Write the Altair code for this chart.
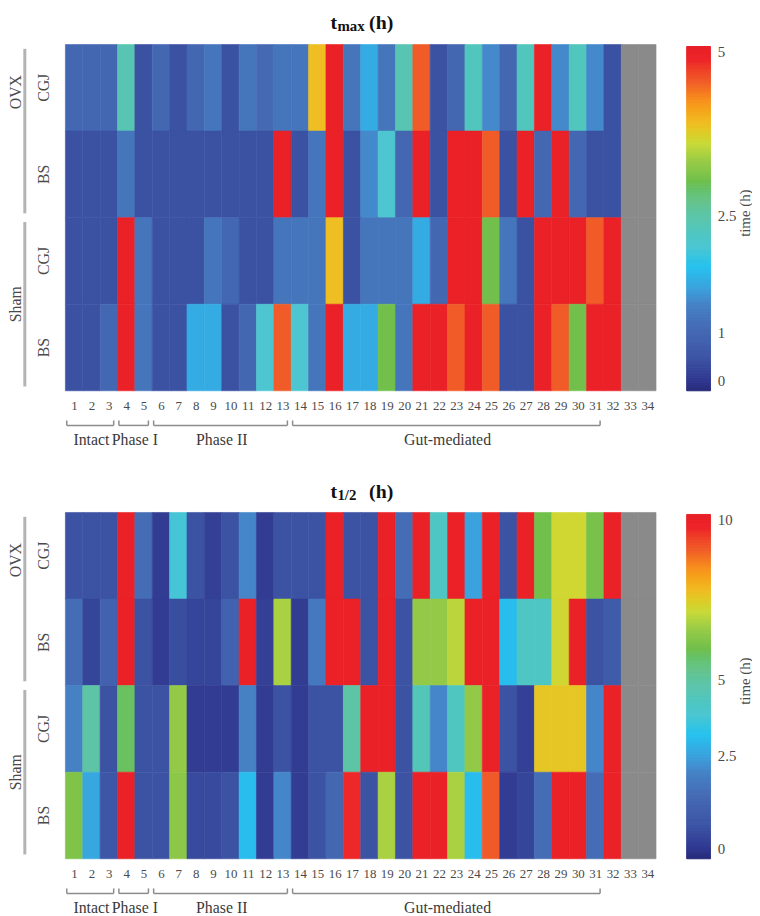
import altair as alt
import numpy as np
import pandas as pd

# ---------------- data ----------------
cols = list(range(1, 35))
row_labels = ["CGJ", "BS", "CGJ", "BS"]
group_names = ["OVX", "Sham"]
group_first_row = [0, 2]
group_last_row = [1, 3]

phase_names = ["Intact", "Phase I", "Phase II", "Gut-mediated"]
phase_first_col = [1, 4, 6, 14]
phase_last_col = [3, 5, 13, 31]

N = None
tmax_ovx_cgj = [1.0, 1.0, 1.0, 2.4, 0.45, 1.0, 0.45, 1.0, 1.2, 0.45, 1.2, 1.05, 1.2, 1.2, 3.9, 5.0,
                1.2, 1.65, 1.2, 2.4, 4.55, 0.45, 1.0, 2.3, 1.4, 1.0, 2.3, 5.0, 1.4, 2.3, 1.4, 0.45, N, N]
tmax_ovx_bs = [0.45, 0.45, 0.45, 1.2, 0.45, 0.45, 0.45, 0.45, 0.45, 0.45, 0.45, 0.45, 5.0, 0.45, 1.2, 5.0,
               0.45, 1.4, 2.1, 1.0, 5.0, 0.45, 5.0, 5.0, 4.55, 0.45, 5.0, 1.0, 5.0, 1.0, 0.45, 0.45, N, N]
tmax_sham_cgj = [0.45, 0.45, 0.45, 5.0, 1.2, 0.45, 0.45, 0.45, 1.2, 1.0, 0.45, 0.45, 1.2, 1.2, 1.2, 3.9,
                 0.45, 1.2, 1.2, 1.2, 1.65, 1.0, 5.0, 5.0, 3.05, 1.2, 0.45, 5.0, 5.0, 5.0, 4.55, 5.0, N, N]
tmax_sham_bs = [0.45, 0.45, 1.0, 5.0, 1.2, 0.45, 0.45, 1.65, 1.65, 0.45, 1.0, 2.1, 4.55, 2.1, 1.2, 5.0,
                1.65, 1.65, 3.05, 1.2, 5.0, 5.0, 4.55, 5.0, 4.55, 0.45, 0.45, 5.0, 4.55, 3.05, 5.0, 5.0, N, N]

thalf_ovx_cgj = [0.6, 0.6, 0.6, 10, 1.5, 0.1, 3.75, 0.6, 0.2, 0.6, 2.1, 0.1, 0.6, 0.6, 0.6, 10,
                 0.6, 0.6, 10, 1.5, 10, 4.2, 10, 2.5, 10, 0.6, 10, 6.0, 7.25, 7.25, 6.1, 10, N, N]
thalf_ovx_bs = [1.5, 0.3, 1.1, 10, 0.6, 0.1, 0.5, 0.3, 0.3, 1.1, 10, 0.2, 6.8, 0.1, 1.8, 10,
                10, 0.6, 10, 0.6, 6.5, 6.5, 7.0, 10, 10, 3.1, 4.2, 4.2, 7.25, 10, 0.6, 0.9, N, N]
thalf_sham_cgj = [2.0, 4.9, 0.6, 5.8, 0.6, 0.6, 6.5, 0.1, 0.1, 0.1, 2.0, 0.1, 0.6, 0.1, 0.6, 0.6,
                  4.9, 10, 10, 0.6, 4.5, 2.1, 4.3, 6.5, 10, 0.6, 0.2, 7.6, 7.6, 7.6, 2.1, 10, N, N]
thalf_sham_bs = [6.2, 2.6, 0.7, 10, 0.6, 0.6, 6.4, 0.4, 0.4, 0.6, 3.1, 0.1, 2.1, 0.1, 0.6, 1.3,
                 9.7, 0.6, 6.8, 0.6, 10, 10, 6.8, 3.1, 9.1, 0.1, 0.3, 1.5, 10, 10, 1.5, 10, N, N]

tmax_rows = [tmax_ovx_cgj, tmax_ovx_bs, tmax_sham_cgj, tmax_sham_bs]
thalf_rows = [thalf_ovx_cgj, thalf_ovx_bs, thalf_sham_cgj, thalf_sham_bs]

tmax_ticks = [0, 1, 2.5, 5]
thalf_ticks = [0, 2.5, 5, 10]

# ---------------- style ----------------
W, H = 597, 350
GAP, BARW = 31, 24
FONT = "Liberation Serif"
TXT = "#4a4a4a"
group_label_nudge = [-0.45, 0.0]   # OVX label sits higher than its group centre

# colour bar: positions along bar (0 bottom .. 1 top) and colours
stop_fracs = [0.0, 0.03, 0.10, 0.18, 0.25, 0.30, 0.36, 0.42, 0.50, 0.55, 0.61, 0.67, 0.72,
              0.78, 0.84, 0.90, 0.96, 1.0]
stop_colors = ["#262a78", "#30378f", "#3d55a5", "#4569b3", "#4682c5", "#3aa2dd", "#27c1ef",
               "#4dc6d1", "#5cc5ad", "#67c38c", "#6fbf4c", "#9acb46", "#c9da38", "#f0bc22",
               "#f7941d", "#f05a28", "#ee2428", "#e81f27"]
tmax_tick_fracs = [0.03, 0.17, 0.51, 0.985]
thalf_tick_fracs = [0.03, 0.30, 0.52, 0.985]


def make_f2v(tv, tf):
    def f2v(f):
        if f <= tf[0]:
            return tv[0] + (f - tf[0]) * (tv[1] - tv[0]) / (tf[1] - tf[0])
        if f >= tf[-1]:
            return tv[-1] + (f - tf[-1]) * (tv[-1] - tv[-2]) / (tf[-1] - tf[-2])
        return float(np.interp(f, tf, tv))
    return f2v


def panel(rows, ticks, tick_fracs, sub, title_base):
    f2v = make_f2v(ticks, tick_fracs)
    cdom = [f2v(f) for f in stop_fracs]
    cscale = alt.Scale(domain=cdom, range=stop_colors, nice=False, zero=False, clamp=True)
    sscale = alt.Scale(domain=cdom, range=stop_colors, nice=False, zero=False, clamp=True)
    xs = alt.Scale(domain=[0.5, 34.5], range=[0, W], nice=False, zero=False)
    ys = alt.Scale(domain=[0, 4], range=[0, H], nice=False, zero=False)
    x_axis = alt.Axis(values=cols, title=None, ticks=False, domain=False, grid=False,
                      labelFont=FONT, labelFontSize=13, labelColor=TXT, labelPadding=9,
                      labelOverlap=False, labelFlush=False, orient="bottom")

    recs = []
    for r, vals in enumerate(rows):
        for c, v in zip(cols, vals):
            recs.append({"c0": c - 0.5, "c1": c + 0.5, "r0": r, "r1": r + 1,
                         "v": np.nan if v is None else v})
    df = pd.DataFrame(recs)

    cells = alt.Chart(df).transform_filter("isValid(datum.v)").mark_rect(strokeWidth=0.6).encode(
        x=alt.X("c0:Q", scale=xs, axis=x_axis), x2="c1",
        y=alt.Y("r0:Q", scale=ys, axis=None), y2="r1",
        color=alt.Color("v:Q", scale=cscale, legend=None),
        stroke=alt.Stroke("v:Q", scale=sscale, legend=None))
    missing = alt.Chart(df).transform_filter("!isValid(datum.v)").mark_rect(
        color="#8a8a8a", stroke="#8a8a8a", strokeWidth=0.6).encode(
        x=alt.X("c0:Q", scale=xs, axis=x_axis), x2="c1",
        y=alt.Y("r0:Q", scale=ys, axis=None), y2="r1")

    rl = pd.DataFrame({"lab": row_labels, "yc": [i + 0.5 for i in range(4)]})
    rowtext = alt.Chart(rl).mark_text(angle=270, font=FONT, fontSize=16, color=TXT,
                                      align="center", baseline="middle").encode(
        x=alt.value(-22), y=alt.Y("yc:Q", scale=ys, axis=None), text="lab:N")

    gd = pd.DataFrame({"g": group_names,
                       "y0": [a + 0.05 for a in group_first_row],
                       "y1": [b + 1 - 0.05 for b in group_last_row],
                       "yc": [(a + b + 1) / 2 + n for a, b, n in
                              zip(group_first_row, group_last_row, group_label_nudge)]})
    glines = alt.Chart(gd).mark_rule(color="#b3b3b3", strokeWidth=3).encode(
        x=alt.value(-41), y=alt.Y("y0:Q", scale=ys, axis=None), y2="y1")
    gtext = alt.Chart(gd).mark_text(angle=270, font=FONT, fontSize=16, color=TXT,
                                    align="center", baseline="middle").encode(
        x=alt.value(-50), y=alt.Y("yc:Q", scale=ys, axis=None), text="g:N")

    pdf = pd.DataFrame({"p": phase_names,
                        "x0": [a - 0.5 + 0.08 for a in phase_first_col],
                        "x1": [b + 0.5 - 0.22 for b in phase_last_col],
                        "xc": [(a + b) / 2 for a, b in zip(phase_first_col, phase_last_col)]})
    bcol = "#8c8c8c"
    bh = alt.Chart(pdf).mark_rule(color=bcol, strokeWidth=1.5).encode(
        x=alt.X("x0:Q", scale=xs, axis=x_axis), x2="x1", y=alt.value(H + 35))
    bl = alt.Chart(pdf).mark_rule(color=bcol, strokeWidth=1.5).encode(
        x=alt.X("x0:Q", scale=xs, axis=x_axis), y=alt.value(H + 30), y2=alt.value(H + 35))
    br = alt.Chart(pdf).mark_rule(color=bcol, strokeWidth=1.5).encode(
        x=alt.X("x1:Q", scale=xs, axis=x_axis), y=alt.value(H + 30), y2=alt.value(H + 35))
    ptext = alt.Chart(pdf).mark_text(font=FONT, fontSize=16, color="#3a3a3a",
                                     align="center", baseline="alphabetic").encode(
        x=alt.X("xc:Q", scale=xs, axis=x_axis), y=alt.value(H + 55), text="p:N")

    t1 = alt.Chart(pd.DataFrame({"s": ["t"]})).mark_text(
        font=FONT, fontSize=20, fontWeight="bold", color="#111", align="left",
        baseline="alphabetic").encode(x=alt.value(268), y=alt.value(title_base), text="s:N")
    t2 = alt.Chart(pd.DataFrame({"s": [sub]})).mark_text(
        font=FONT, fontSize=15, fontWeight="bold", color="#111", align="left",
        baseline="alphabetic").encode(x=alt.value(275), y=alt.value(title_base + 2), text="s:N")
    t3 = alt.Chart(pd.DataFrame({"s": ["(h)"]})).mark_text(
        font=FONT, fontSize=20, fontWeight="bold", color="#111", align="left",
        baseline="alphabetic").encode(x=alt.value(307), y=alt.value(title_base), text="s:N")

    nseg = 160
    fr = [i / nseg for i in range(nseg + 1)]
    leg = pd.DataFrame({"y0": [f2v(f) for f in fr[:-1]],
                        "y1": [f2v(f) for f in fr[1:]],
                        "v": [f2v((a + b) / 2) for a, b in zip(fr[:-1], fr[1:])]})
    lys = alt.Scale(domain=ticks, range=[H - f * 348 for f in tick_fracs], nice=False, zero=False)
    legend = alt.Chart(leg).mark_rect(strokeWidth=1).encode(
        x=alt.value(W + GAP), x2=alt.value(W + GAP + BARW),
        y=alt.Y("y0:Q", scale=lys,
                axis=alt.Axis(orient="right", values=ticks, format=".1~f", ticks=False,
                              domain=False, grid=False,
                              labelFont=FONT, labelFontSize=15, labelColor=TXT, labelPadding=7,
                              labelFlush=False, labelOverlap=False,
                              title="time (h)", titleFont=FONT, titleFontSize=15,
                              titleFontWeight="normal", titleColor=TXT, titleAngle=270,
                              titleX=34, titleY=170, titleAlign="center",
                              titleBaseline="middle")),
        y2="y1",
        color=alt.Color("v:Q", scale=cscale, legend=None),
        stroke=alt.Stroke("v:Q", scale=sscale, legend=None))

    return alt.layer(cells, missing, rowtext, glines, gtext, bh, bl, br, ptext,
                     t1, t2, t3, legend).resolve_scale(y="independent").properties(
        width=W + GAP + BARW, height=H)


top = panel(tmax_rows, tmax_ticks, tmax_tick_fracs, "max", -16)
bottom = panel(thalf_rows, thalf_ticks, thalf_tick_fracs, "1/2", -15)

chart = alt.vconcat(top, bottom, spacing=34).resolve_scale(
    color="independent", stroke="independent").configure_view(
    strokeWidth=0).properties(padding={"left": 0, "top": 0, "right": 0, "bottom": 0})

chart.save("out.html", embed_options={"renderer": "svg", "actions": False})
